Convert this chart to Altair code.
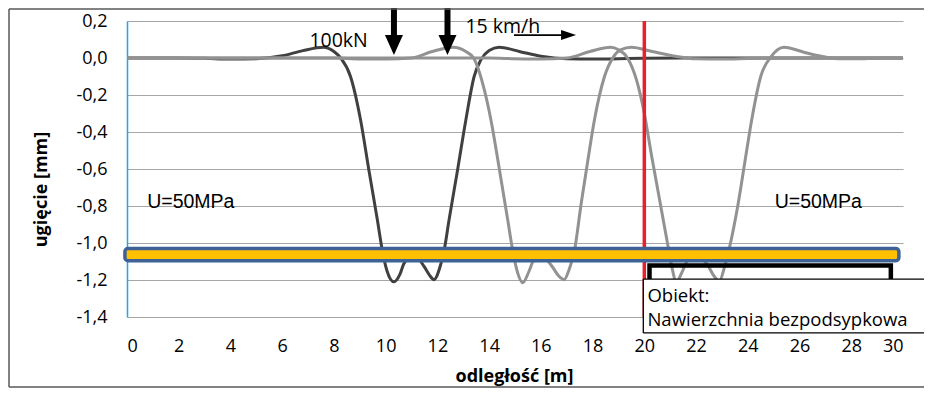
import altair as alt
import pandas as pd

# ---- data -------------------------------------------------------------------
# dark curve (first position of the two-axle load)
c1_x = [0, 2, 3, 4, 5, 6, 6.8, 7.6, 8.0, 8.26, 8.64, 9.03, 9.35, 9.68, 9.87, 10.05, 10.32,
        10.55, 10.71, 11.1, 11.49, 11.7, 11.87, 12.1, 12.26, 12.45, 12.78, 13.1, 13.42,
        13.68, 14.0, 14.39, 15.2, 16.0, 17.0, 18.0, 19.0, 20.0, 22.0, 30.0]
c1_y = [0, 0, -0.002, -0.006, -0.004, 0.012, 0.040, 0.058, 0.035, 0.0, -0.10, -0.335, -0.605,
        -0.876, -1.04, -1.15, -1.21, -1.17, -1.11, -1.065, -1.128, -1.175, -1.198, -1.13,
        -1.04, -0.876, -0.605, -0.335, -0.10, -0.01, 0.04, 0.058, 0.034, 0.01, -0.004,
        -0.006, -0.004, -0.002, 0.0, 0.0]
# light curve (second position)
c2_x = [0, 8, 9, 10, 11, 11.8, 12.6, 13.1, 13.4, 13.81, 14.07, 14.4, 14.72, 14.91, 15.1,
        15.3, 15.55, 15.7, 16.07, 16.45, 16.7, 16.9, 17.1, 17.3, 17.56, 17.82, 18.07,
        18.46, 18.8, 19.1, 19.5, 20.3, 21.2, 22.0, 23.0, 24.0, 25.0, 30.0]
c2_y = [0, 0, -0.005, -0.006, 0.0, 0.035, 0.058, 0.035, 0.0, -0.17, -0.335, -0.605, -0.876,
        -1.04, -1.16, -1.215, -1.15, -1.10, -1.075, -1.13, -1.18, -1.198, -1.14, -1.04,
        -0.785, -0.55, -0.335, -0.10, 0.005, 0.045, 0.058, 0.035, 0.01, -0.004, -0.006,
        -0.003, 0.0, 0.0]
# light curve (third position)
c3_x = [0, 14, 15, 16, 17, 17.9, 18.7, 19.0, 19.35, 19.7, 20.0, 20.27, 20.66, 20.92, 21.05,
        21.24, 21.45, 21.65, 22.05, 22.45, 22.7, 22.9, 23.1, 23.3, 23.63, 23.9, 24.15,
        24.5, 24.9, 25.4, 26.2, 27.0, 27.6, 28.5, 29.3, 30.0]
c3_y = [0, 0, -0.004, -0.006, 0.0, 0.035, 0.058, 0.045, 0.0, -0.12, -0.30, -0.52, -0.82,
        -1.02, -1.12, -1.21, -1.16, -1.10, -1.07, -1.12, -1.18, -1.205, -1.13, -1.02,
        -0.785, -0.55, -0.335, -0.10, 0.007, 0.058, 0.03, 0.005, -0.004, -0.004, 0.0, 0.0]

x_ticks = list(range(0, 31, 2))
y_ticks = [-1.4, -1.2, -1.0, -0.8, -0.6, -0.4, -0.2, 0.0, 0.2]

boundary_x = [20]
boundary_y = [0.2]
boundary_y2 = [-1.4]

band_x = [-0.08]
band_x2 = [29.84]
band_y = [-1.03]
band_y2 = [-1.096]

box_x = [20.2]
box_x2 = [29.53]
box_y = [-1.122]
box_y2 = [-1.30]

label_box_x = [19.96]
label_box_x2 = [32.0]
label_box_y = [-1.195]
label_box_y2 = [-1.486]

load_x = [10.32, 12.39]
load_top = [0.276, 0.276]
load_shaft_end = [0.10, 0.10]
load_head_y = [0.070, 0.070]

speed_x = [14.96]
speed_x2 = [16.9]
speed_y = [0.124]
speed_head_x = [17.07]

texts = ["100kN", "15 km/h"]
texts_x = [8.18, 14.53]
texts_y = [0.092, 0.168]

mod_texts = ["U=50MPa", "U=50MPa"]
mod_x = [0.78, 25.04]
mod_y = [-0.778, -0.778]

obj_texts = ["Obiekt:", "Nawierzchnia bezpodsypkowa"]
obj_x = [20.12, 20.12]
obj_y = [-1.286, -1.416]

# ---- chart -------------------------------------------------------------------
FONT = "Open Sans"
xs = alt.Scale(domain=[0, 30], nice=False, zero=False)
ys = alt.Scale(domain=[-1.4, 0.2], nice=False, zero=False)

df1 = pd.DataFrame({"x": c1_x, "y": c1_y})
df2 = pd.DataFrame({"x": c2_x, "y": c2_y})
df3 = pd.DataFrame({"x": c3_x, "y": c3_y})

x_axis = alt.Axis(values=x_ticks, tickCount=40, grid=False, domain=False, ticks=False, tickSize=0,
                  labelPadding=20, labelFont=FONT, labelFontSize=18, labelColor="#000000",
                  labelBaseline="top", labelOverlap=False,
                  title="odległość [m]", titleFont=FONT, titleFontSize=18, titleFontWeight="bold",
                  titleColor="#000000", titleBaseline="middle", titleX=387, titleY=59,
                  titleAnchor="start", titleAlign="center")
y_axis = alt.Axis(values=y_ticks, tickCount=40, grid=True, gridColor="#A6A6A6", gridWidth=1,
                  domain=True, domainColor="#1FA9E1", domainWidth=1.5, ticks=False, tickSize=0,
                  labelPadding=20, labelFont=FONT, labelFontSize=18, labelColor="#000000",
                  labelOverlap=False,
                  labelExpr="(datum.value < -0.0001 ? '-' : '') + replace(format(abs(datum.value), '.1f'), '.', ',')",
                  title="ugięcie [mm]", titleFont=FONT, titleFontSize=18, titleFontWeight="bold",
                  titleColor="#000000", titleBaseline="middle", titleAlign="center",
                  titleX=-86, titleY=168, titleAngle=-90, titleAnchor="start")

line1 = alt.Chart(df1).mark_line(interpolate="monotone", strokeWidth=3, color="#404040").encode(
    x=alt.X("x:Q", scale=xs, axis=x_axis), y=alt.Y("y:Q", scale=ys, axis=y_axis))
line2 = alt.Chart(df2).mark_line(interpolate="monotone", strokeWidth=3, color="#929292").encode(
    x=alt.X("x:Q", scale=xs), y=alt.Y("y:Q", scale=ys))
line3 = alt.Chart(df3).mark_line(interpolate="monotone", strokeWidth=3, color="#929292").encode(
    x=alt.X("x:Q", scale=xs), y=alt.Y("y:Q", scale=ys))

red = alt.Chart(pd.DataFrame({"x": boundary_x, "y": boundary_y, "y2": boundary_y2})).mark_rule(
    color="#E8202A", strokeWidth=3.5).encode(x=alt.X("x:Q", scale=xs), y=alt.Y("y:Q", scale=ys), y2="y2:Q")

band = alt.Chart(pd.DataFrame({"x": band_x, "x2": band_x2, "y": band_y, "y2": band_y2})).mark_rect(
    fill="#FFC000", stroke="#3E6296", strokeWidth=3.5, cornerRadius=3).encode(
    x=alt.X("x:Q", scale=xs), x2="x2:Q", y=alt.Y("y:Q", scale=ys), y2="y2:Q")

blackbox = alt.Chart(pd.DataFrame({"x": box_x, "x2": box_x2, "y": box_y, "y2": box_y2})).mark_rect(
    fillOpacity=0, stroke="#000000", strokeWidth=4.5).encode(
    x=alt.X("x:Q", scale=xs), x2="x2:Q", y=alt.Y("y:Q", scale=ys), y2="y2:Q")

lb = pd.DataFrame({"x": label_box_x, "x2": label_box_x2, "y": label_box_y, "y2": label_box_y2})
labelbox = alt.Chart(lb).mark_rect(fill="#FFFFFF").encode(
    x=alt.X("x:Q", scale=xs), x2="x2:Q", y=alt.Y("y:Q", scale=ys), y2="y2:Q")
lb_left = alt.Chart(lb).mark_rule(color="#000000", strokeWidth=1.3).encode(
    x=alt.X("x:Q", scale=xs), y=alt.Y("y:Q", scale=ys), y2="y2:Q")
lb_top = alt.Chart(lb).mark_rule(color="#000000", strokeWidth=1.3).encode(
    x=alt.X("x:Q", scale=xs), x2="x2:Q", y=alt.Y("y:Q", scale=ys))
lb_bottom = alt.Chart(lb).mark_rule(color="#000000", strokeWidth=1.3).encode(
    x=alt.X("x:Q", scale=xs), x2="x2:Q", y=alt.Y("y2:Q", scale=ys))

loads = pd.DataFrame({"x": load_x, "top": load_top, "end": load_shaft_end, "head": load_head_y})
shafts = alt.Chart(loads).mark_rule(color="#000000", strokeWidth=6).encode(
    x=alt.X("x:Q", scale=xs), y=alt.Y("top:Q", scale=ys), y2="end:Q")
heads = alt.Chart(loads).mark_point(
    shape="M -1 -1.11 L 1 -1.11 L 0 1.11 Z", filled=True, size=324, color="#000000", opacity=1).encode(
    x=alt.X("x:Q", scale=xs), y=alt.Y("head:Q", scale=ys))

speed = pd.DataFrame({"x": speed_x, "x2": speed_x2, "y": speed_y, "hx": speed_head_x})
speed_line = alt.Chart(speed).mark_rule(color="#000000", strokeWidth=1.8).encode(
    x=alt.X("x:Q", scale=xs), x2="x2:Q", y=alt.Y("y:Q", scale=ys))
speed_head = alt.Chart(speed).mark_point(
    shape="M -1 -0.67 L 1 0 L -1 0.67 Z", filled=True, size=225, color="#000000", opacity=1).encode(
    x=alt.X("hx:Q", scale=xs), y=alt.Y("y:Q", scale=ys))

txt = alt.Chart(pd.DataFrame({"t": texts, "x": texts_x, "y": texts_y})).mark_text(
    font=FONT, fontSize=19.5, color="#000000", align="center", baseline="middle").encode(
    x=alt.X("x:Q", scale=xs), y=alt.Y("y:Q", scale=ys), text="t:N")

mod = alt.Chart(pd.DataFrame({"t": mod_texts, "x": mod_x, "y": mod_y})).mark_text(
    font="Liberation Sans", fontSize=19.5, color="#000000", align="left", baseline="middle").encode(
    x=alt.X("x:Q", scale=xs), y=alt.Y("y:Q", scale=ys), text="t:N")

obj = alt.Chart(pd.DataFrame({"t": obj_texts, "x": obj_x, "y": obj_y})).mark_text(
    font=FONT, fontSize=18.5, color="#000000", align="left", baseline="middle").encode(
    x=alt.X("x:Q", scale=xs), y=alt.Y("y:Q", scale=ys), text="t:N")

# outer frame of the figure (left, top and bottom edges; right edge lies outside the picture)
fr = pd.DataFrame({"a": [0]})
frame_left = alt.Chart(fr).mark_rule(color="#595959", strokeWidth=1.5).encode(
    x=alt.value(-118), y=alt.value(-12), y2=alt.value(366))
frame_top = alt.Chart(fr).mark_rule(color="#595959", strokeWidth=1.5).encode(
    x=alt.value(-118), x2=alt.value(800), y=alt.value(-12))
frame_bottom = alt.Chart(fr).mark_rule(color="#595959", strokeWidth=1.5).encode(
    x=alt.value(-118), x2=alt.value(800), y=alt.value(366))

chart = alt.layer(
    line1, line2, line3, red, band, blackbox, labelbox, lb_left, lb_top, lb_bottom,
    txt, mod, obj, shafts, heads, speed_line, speed_head,
    frame_left, frame_top, frame_bottom
).properties(
    width=776, height=296,
    padding={"left": 119, "top": 13, "right": 21, "bottom": 71},
    autosize=alt.AutoSizeParams(type="none"),
    background="#FFFFFF",
).configure_view(strokeWidth=0)

chart.save("out.html", embed_options={"renderer": "svg", "actions": False})
